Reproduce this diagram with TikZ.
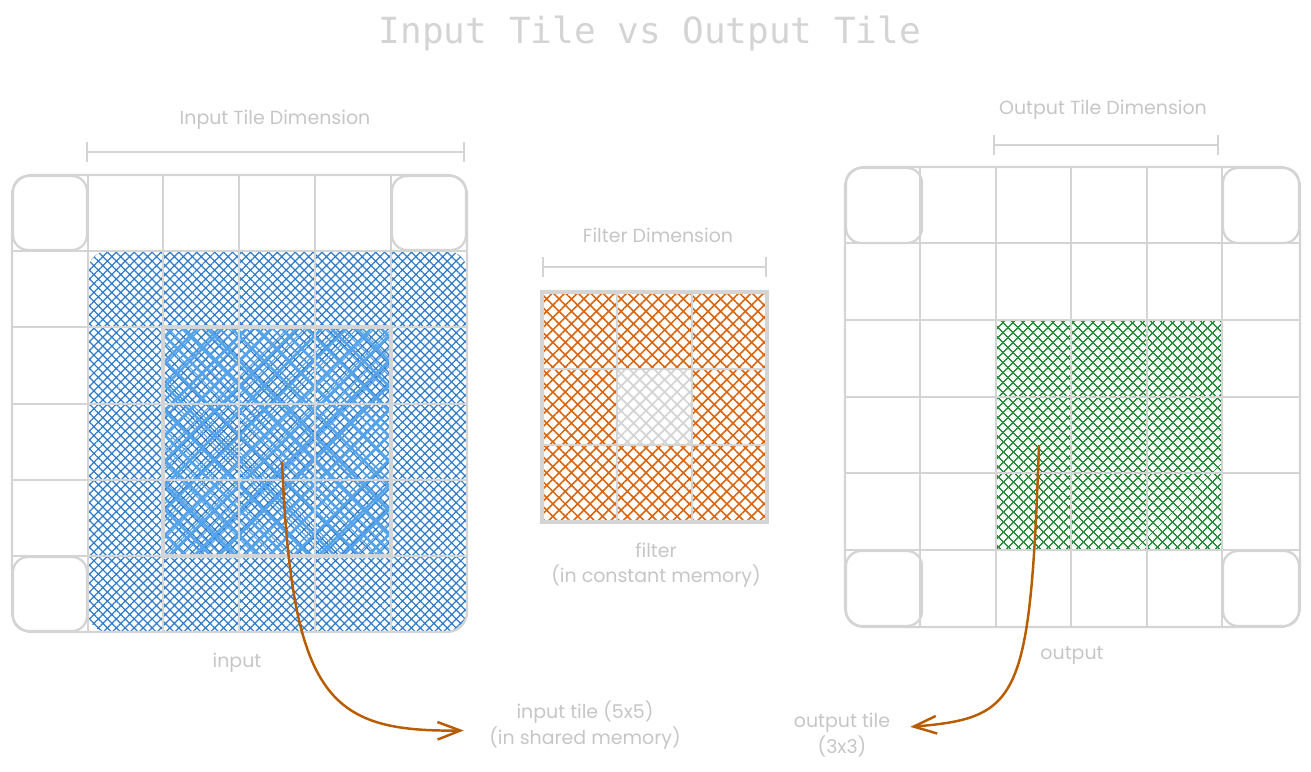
\documentclass[tikz,border=0pt]{standalone}
\usepackage{fontspec}
\setmainfont{Poppins}
\newfontfamily\titlefont{DejaVu Sans Mono}
\usepackage{xcolor}
\usetikzlibrary{positioning, arrows.meta, patterns.meta}
\definecolor{gridgray}{HTML}{D4D4D4}
\definecolor{lblgray}{HTML}{C6C6C6}
\definecolor{inblue}{HTML}{2F7BC8}
\definecolor{inblue2}{HTML}{55A3EA}
\definecolor{filtorange}{HTML}{D9650F}
\definecolor{outgreen}{HTML}{2B8C3E}
\definecolor{arrbrown}{HTML}{B85C00}

\begin{document}
\begin{tikzpicture}[
  x=0.02cm, y=-0.02cm,
  grid/.style={draw=gridgray, line width=1.3pt},
  corner/.style={draw=gridgray, line width=1.3pt, rounded corners=3mm},
  dim/.style={draw=gridgray, line width=1.1pt, {Bar[width=11pt]}-{Bar[width=11pt]}},
  lbl/.style={text=lblgray, font=\fontsize{10.8}{14.5}\selectfont, align=center},
  ttl/.style={text=gridgray, font=\titlefont\fontsize{20.5}{24}\selectfont},
  arr/.style={draw=arrbrown, line width=1.4pt, -{Straight Barb[length=13pt, width=10pt]}},
]
  \useasboundingbox (0,0) rectangle (1311,771);

  \node[ttl] (title) at (650,33) {Input Tile vs Output Tile};

  % input tile (5x5) with the 3x3 core
  \fill[pattern={Hatch[angle=45, distance=3.6pt, line width=0.7pt]}, pattern color=inblue, rounded corners=4mm]
    (88,251) rectangle (467,632);
  \fill[pattern={Hatch[angle=45, distance=10pt, line width=1.5pt, xshift=2pt]}, pattern color=inblue2]
    (163,327) rectangle (391,556);
  \fill[pattern={Hatch[angle=45, distance=7pt, line width=0.6pt, xshift=1pt]}, pattern color=inblue2]
    (163,327) rectangle (391,556);
  \foreach \x in {88,163,239,315,391}
    \draw[grid] (\x,175) -- (\x,632);
  \foreach \y in {251,327,404,480,556}
    \draw[grid] (12,\y) -- (467,\y);
  \draw[grid, rounded corners=4mm] (12,175) rectangle (467,632);
  \foreach \x/\y in {12/175, 391/175, 12/556}
    \draw[corner] (\x+1,\y+1) rectangle (\x+75,\y+75);
  \draw[draw=gridgray, line width=2.2pt] (163,327) rectangle (391,556);

  \draw[dim] (86,152) -- (465,152);
  \node[lbl] (indim) at (275,120) {Input Tile Dimension};
  \node[lbl] (inlbl) at (237,663) {input};

  % filter
  \fill[pattern={Hatch[angle=45, distance=5pt, line width=0.9pt]}, pattern color=filtorange]
    (542,292) rectangle (767,522);
  \fill[white] (617,369) rectangle (692,445);
  \fill[pattern={Hatch[angle=45, distance=5pt, line width=1pt]}, pattern color=gridgray]
    (617,369) rectangle (692,445);
  \foreach \x in {617,692}
    \draw[grid] (\x,292) -- (\x,522);
  \foreach \y in {369,445}
    \draw[grid] (542,\y) -- (767,\y);
  \draw[grid, line width=1.8pt] (542,292) rectangle (767,522);

  \draw[dim] (542,267) -- (767,267);
  \node[lbl] (filtdim) at (658,235) {Filter Dimension};
  \node[lbl] (filtlbl) at (656,565) {filter\\(in constant memory)};

  % output tile (3x3)
  \fill[pattern={Hatch[angle=45, distance=4pt, line width=0.8pt]}, pattern color=outgreen]
    (996,320) rectangle (1222,550);
  \foreach \x in {920,996,1071,1147,1222}
    \draw[grid] (\x,167) -- (\x,627);
  \foreach \y in {243,320,397,473,550}
    \draw[grid] (845,\y) -- (1300,\y);
  \draw[grid, rounded corners=4mm] (845,167) rectangle (1300,627);
  \foreach \x/\y in {845/167, 1222/167, 845/550, 1222/550}
    \draw[corner] (\x+1,\y+1) rectangle (\x+77,\y+76);

  \draw[dim] (993,145) -- (1219,145);
  \node[lbl] (outdim) at (1103,110) {Output Tile Dimension};
  \node[lbl] (outlbl) at (1072,655) {output};

  % callouts
  \node[lbl] (intile) at (585,725) {input tile (5x5)\\(in shared memory)};
  \node[lbl] (outtile) at (842,735) {output tile\\(3x3)};
  \coordinate (inpick) at (282,462);
  \coordinate (outpick) at (1039,445);
  \draw[arr, shorten >=11pt] (inpick) .. controls (292,700) and (330,732) .. ([yshift=-3pt]intile.west);
  \draw[arr, shorten >=8pt] (outpick) .. controls (1030,700) and (1020,718) .. ([yshift=4pt]outtile.east);
\end{tikzpicture}
\end{document}
